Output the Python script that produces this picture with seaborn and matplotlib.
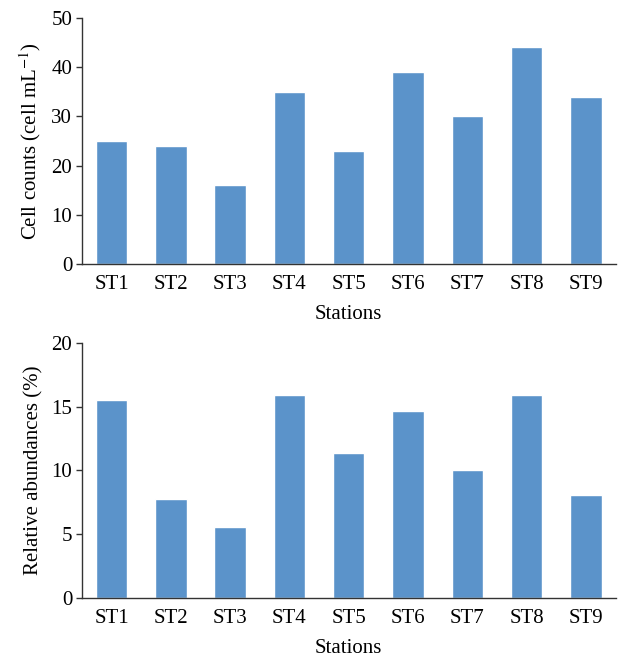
import matplotlib
matplotlib.use('Agg')
import matplotlib.pyplot as plt
import seaborn as sns
import pandas as pd

# ------------------------ Data ------------------------ #
stations = ['ST1', 'ST2', 'ST3', 'ST4', 'ST5', 'ST6', 'ST7', 'ST8', 'ST9']
cell_counts = [25, 24, 16, 35, 23, 39, 30, 44, 34]
rel_abundance = [15.5, 7.8, 5.6, 15.9, 11.4, 14.7, 10.0, 15.9, 8.1]

bar_color = '#5B93CA'

sns.set_style('ticks')
plt.rcParams['font.family'] = ['Liberation Serif', 'DejaVu Serif']
plt.rcParams['mathtext.fontset'] = 'stix'
plt.rcParams['text.color'] = 'black'
plt.rcParams['axes.labelcolor'] = 'black'
plt.rcParams['xtick.color'] = 'black'
plt.rcParams['ytick.color'] = 'black'

df = pd.DataFrame({'Station': stations, 'Cells': cell_counts, 'Rel': rel_abundance})

fig = plt.figure(figsize=(6.18, 6.59), dpi=100)
ax1 = fig.add_axes([0.1327, 0.599, 0.8633, 0.374])
ax2 = fig.add_axes([0.1327, 0.0926, 0.8633, 0.387])

panels = [
    (ax1, 'Cells', r'Cell counts (cell mL$^{-1}$)', 50, [0, 10, 20, 30, 40, 50]),
    (ax2, 'Rel', 'Relative abundances (%)', 20, [0, 5, 10, 15, 20]),
]

for ax, col, ylab, ymax, yticks in panels:
    sns.barplot(data=df, x='Station', y=col, color=bar_color, width=0.53,
                saturation=1, ax=ax)
    ax.set_ylim(0, ymax)
    ax.set_xlim(-0.5, 8.5)
    ax.set_yticks(yticks)
    ax.set_xlabel('Stations', fontsize=15, labelpad=8)
    ax.set_ylabel(ylab, fontsize=15, labelpad=6)
    ax.tick_params(axis='y', labelsize=15, length=4, width=1, color='#333333', pad=3)
    ax.tick_params(axis='x', labelsize=15, length=0, pad=8)
    sns.despine(ax=ax)
    for s in ['left', 'bottom']:
        ax.spines[s].set_color('#333333')
        ax.spines[s].set_linewidth(1)

plt.savefig('out.png', dpi=100)
